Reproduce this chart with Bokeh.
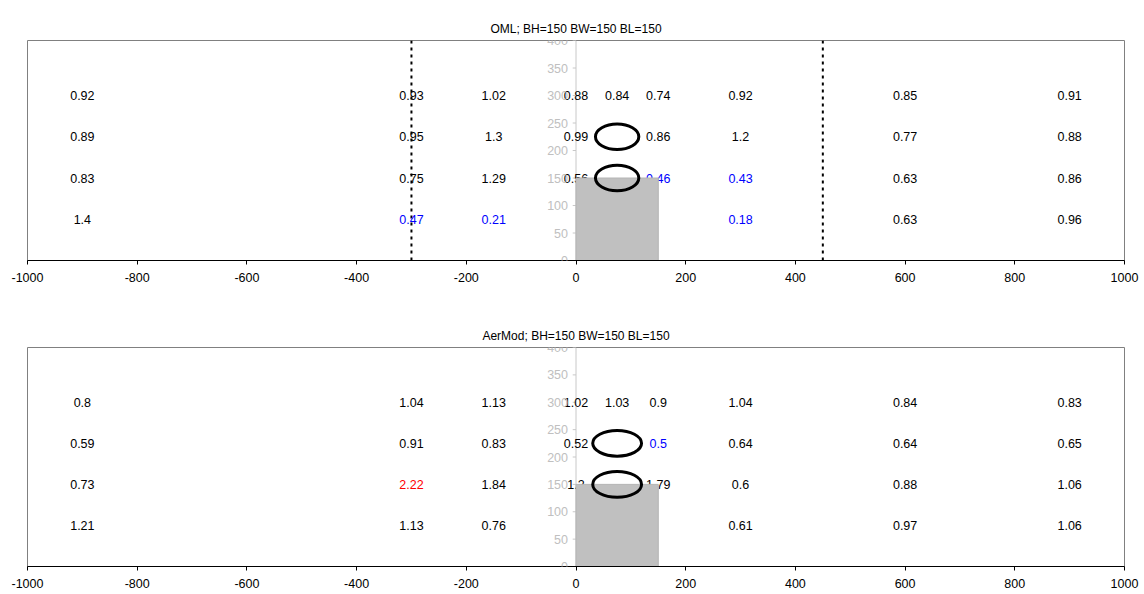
from bokeh.plotting import figure
from bokeh.layouts import column
from bokeh.models import Range1d, Span, ColumnDataSource, FixedTicker, LabelSet, Title
from bokeh.core.properties import value
from bokeh.embed import file_html
from bokeh.resources import INLINE

# ---------------- data ----------------
x_ticks = [-1000, -800, -600, -400, -200, 0, 200, 400, 600, 800, 1000]
y_ticks = [0, 50, 100, 150, 200, 250, 300, 350, 400]

cols = [-900, -300, -150, 0, 75, 150, 300, 600, 900]
rows = [300, 225, 150, 75]

oml_300 = [0.92, 0.93, 1.02, 0.88, 0.84, 0.74, 0.92, 0.85, 0.91]
oml_225 = [0.89, 0.95, 1.3, 0.99, None, 0.86, 1.2, 0.77, 0.88]
oml_150 = [0.83, 0.75, 1.29, 0.56, None, 0.46, 0.43, 0.63, 0.86]
oml_75 = [1.4, 0.47, 0.21, None, None, None, 0.18, 0.63, 0.96]

aer_300 = [0.8, 1.04, 1.13, 1.02, 1.03, 0.9, 1.04, 0.84, 0.83]
aer_225 = [0.59, 0.91, 0.83, 0.52, None, 0.5, 0.64, 0.64, 0.65]
aer_150 = [0.73, 2.22, 1.84, 1.2, None, 1.79, 0.6, 0.88, 1.06]
aer_75 = [1.21, 1.13, 0.76, None, None, None, 0.61, 0.97, 1.06]

# building: BH=150 BW=150
bld_left = [0]
bld_right = [150]
bld_bottom = [0]
bld_top = [150]

# receptor rings on the building
ring_x = [75, 75]
ring_y = [225, 150]

# dotted boundaries (OML only)
oml_lines = [-300, 450]

FONT = "Liberation Sans"


def colour_of(v):
    if v <= 0.5:
        return "#0000ff"
    if v >= 2.0:
        return "#ff0000"
    return "#000000"


def make_panel(title, grid, ring_w, ring_h, lines, top_border, frame_h,
               bottom_border, spacer):
    p = figure(frame_width=1097, frame_height=frame_h,
               min_border_left=27, min_border_right=20,
               min_border_top=top_border, min_border_bottom=bottom_border,
               x_range=Range1d(-1000, 1000), y_range=Range1d(0, 400),
               y_axis_location=None, toolbar_location=None,
               output_backend="svg")
    # spacer title next to the frame, real title above it
    p.title.text = " "
    p.title.text_font_size = "1px"
    p.title.standoff = spacer
    p.add_layout(Title(text=title, align="center", text_font=FONT,
                       text_font_size="12px", text_font_style="normal",
                       text_color="#000000"), "above")
    p.xgrid.visible = False
    p.ygrid.visible = False
    p.outline_line_color = "#808080"
    p.background_fill_color = "#ffffff"
    p.border_fill_color = "#ffffff"

    ax = p.xaxis[0]
    ax.ticker = FixedTicker(ticks=x_ticks)
    ax.major_label_overrides = {t: str(t) for t in x_ticks}
    ax.axis_line_color = "#000000"
    ax.major_tick_line_color = "#000000"
    ax.major_tick_out = 4
    ax.major_tick_in = 0
    ax.minor_tick_line_color = None
    ax.major_label_text_font = FONT
    ax.major_label_text_font_size = "12.5px"
    ax.major_label_text_color = "#000000"
    ax.major_label_standoff = 8

    for lx in lines:
        p.add_layout(Span(location=lx, dimension="height", line_color="#000000",
                          line_width=2, line_dash="3 4", level="underlay"))

    # center (building) y-axis, light grey
    p.segment(x0=[0], y0=[y_ticks[0]], x1=[0], y1=[y_ticks[-1]],
              line_color="#c8c8c8", line_width=1)
    p.segment(x0=[-6] * len(y_ticks), y0=y_ticks, x1=[0] * len(y_ticks), y1=y_ticks,
              line_color="#c8c8c8", line_width=1)
    tsrc = ColumnDataSource(dict(x=[0] * len(y_ticks), y=y_ticks,
                                 t=[str(v) for v in y_ticks]))
    p.add_layout(LabelSet(x="x", y="y", text="t", source=tsrc, x_offset=-8,
                          text_align="right", text_baseline="middle",
                          text_font=value(FONT), text_font_size="12.5px",
                          text_color="#c0c0c0"))

    # value labels
    xs, ys, ts, cs = [], [], [], []
    for ry, vals in zip(rows, grid):
        for cx, v in zip(cols, vals):
            if v is None:
                continue
            xs.append(cx)
            ys.append(ry)
            ts.append(f"{v:g}")
            cs.append(colour_of(v))
    src = ColumnDataSource(dict(x=xs, y=ys, t=ts, c=cs))
    p.text(x="x", y="y", text="t", text_color="c", source=src,
           text_align="center", text_baseline="middle",
           text_font=value(FONT), text_font_size="12.5px")

    # building
    p.quad(left=bld_left, right=bld_right, bottom=bld_bottom, top=bld_top,
           fill_color="#c0c0c0", line_color="#b4b4b4", line_width=1)
    # rings
    p.ellipse(x=ring_x, y=ring_y, width=ring_w, height=ring_h,
              fill_color=None, line_color="#000000", line_width=3)
    return p


p1 = make_panel("OML; BH=150 BW=150 BL=150",
                [oml_300, oml_225, oml_150, oml_75], 79, 46, oml_lines,
                40, 220, 47, 10)
p2 = make_panel("AerMod; BH=150 BW=150 BL=150",
                [aer_300, aer_225, aer_150, aer_75], 89, 47, [],
                40, 219, 28, 11)

layout = column(p1, p2, spacing=0)
open("out.html", "w").write(file_html(layout, INLINE))
